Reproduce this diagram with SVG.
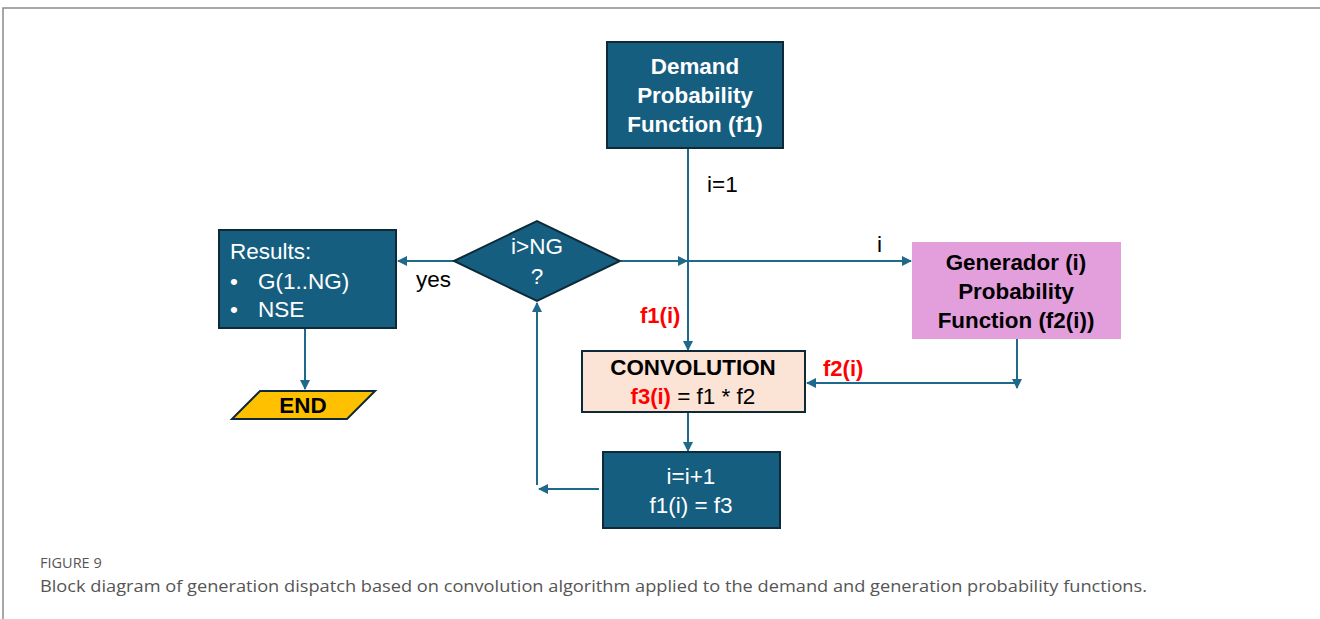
<svg xmlns="http://www.w3.org/2000/svg" width="1320" height="619" viewBox="0 0 1320 619">
<style>
.box{fill:#165e80;stroke:#0e2a38;stroke-width:2}
.t{font-family:"Liberation Sans",Arial,sans-serif;font-size:22.5px}
.w{fill:#fff}
.b{font-weight:bold;font-size:22.4px}
.k{fill:#000}
.r{fill:#ff0000;font-weight:bold;font-size:22px}
.c{stroke:#1f6a8c;stroke-width:2;fill:none}
.cap{font-family:"Open Sans","Liberation Sans",sans-serif;fill:#555}
</style>
<defs>
<marker id="ah" viewBox="0 0 10 10" refX="9" refY="5" markerWidth="5" markerHeight="5" orient="auto" markerUnits="strokeWidth">
<path d="M0,0 L10,5 L0,10 z" fill="#1f6a8c"/>
</marker>
</defs>
<rect width="1320" height="619" fill="#fff"/>
<path d="M3,619 L3,8 L1320,8" fill="none" stroke="#8a8a8a" stroke-width="1.5"/>

<g id="connectors">
<path class="c" d="M688,148 L688,350" marker-end="url(#ah)"/>
<path class="c" d="M621,261 L687,261" marker-end="url(#ah)"/>
<path class="c" d="M688,261 L911,261" marker-end="url(#ah)"/>
<path class="c" d="M454,261 L398,261" marker-end="url(#ah)"/>
<path class="c" d="M1017,339 L1017,388" marker-end="url(#ah)"/>
<path class="c" d="M1017,383 L807,383" marker-end="url(#ah)"/>
<path class="c" d="M688,413 L688,451" marker-end="url(#ah)"/>
<path class="c" d="M599,489 L539,489" marker-end="url(#ah)"/>
<path class="c" d="M537,485 L537,303" marker-end="url(#ah)"/>
<path class="c" d="M305,328 L305,389" marker-end="url(#ah)"/>
<text class="t k" x="707" y="192">i=1</text>
<text class="t k" x="877" y="252">i</text>
<text class="t k" x="416" y="287">yes</text>
<text class="t r" x="640" y="323">f1(i)</text>
<text class="t r" x="823" y="376">f2(i)</text>
</g>

<g id="demand">
<rect class="box" x="607" y="42" width="176" height="106"/>
<text class="t w b" text-anchor="middle" x="695" y="74">Demand</text>
<text class="t w b" text-anchor="middle" x="695" y="103">Probability</text>
<text class="t w b" text-anchor="middle" x="695" y="132">Function (f1)</text>
</g>

<g id="decision">
<polygon class="box" points="454,261 537,221 620,261 537,301"/>
<text class="t w" text-anchor="middle" x="537" y="254">i&gt;NG</text>
<text class="t w" text-anchor="middle" x="537" y="284">?</text>
</g>

<g id="generator">
<rect x="912" y="242" width="209" height="97" fill="#e39edc"/>
<text class="t k b" text-anchor="middle" x="1016" y="270">Generador (i)</text>
<text class="t k b" text-anchor="middle" x="1016" y="299">Probability</text>
<text class="t k b" text-anchor="middle" x="1016" y="328">Function (f2(i))</text>
</g>

<g id="convolution">
<rect x="582" y="351" width="223" height="61" fill="#fbe3d5" stroke="#0e2a38" stroke-width="2"/>
<text class="t k b" text-anchor="middle" x="693" y="375">CONVOLUTION</text>
<text class="t k" text-anchor="middle" x="693" y="404"><tspan class="r">f3(i)</tspan> = f1 * f2</text>
</g>

<g id="increment">
<rect class="box" x="603" y="452" width="177" height="76"/>
<text class="t w" text-anchor="middle" x="691" y="484">i=i+1</text>
<text class="t w" text-anchor="middle" x="691" y="513">f1(i) = f3</text>
</g>

<g id="results">
<rect class="box" x="219" y="230" width="177" height="98"/>
<text class="t w" x="230" y="259">Results:</text>
<text class="t w" x="230" y="289">•</text>
<text class="t w" x="258" y="289">G(1..NG)</text>
<text class="t w" x="230" y="317">•</text>
<text class="t w" x="258" y="317">NSE</text>
</g>

<g id="end">
<polygon points="260,391 375,391 347,419 232,419" fill="#ffc000" stroke="#0e2a38" stroke-width="2"/>
<text class="t k b" text-anchor="middle" x="303" y="413">END</text>
</g>

<g id="caption">
<text class="cap" x="40" y="568" font-size="14.5">FIGURE 9</text>
<text class="cap" x="40" y="592" font-size="16.5" textLength="1107" lengthAdjust="spacingAndGlyphs">Block diagram of generation dispatch based on convolution algorithm applied to the demand and generation probability functions.</text>
</g>
</svg>
